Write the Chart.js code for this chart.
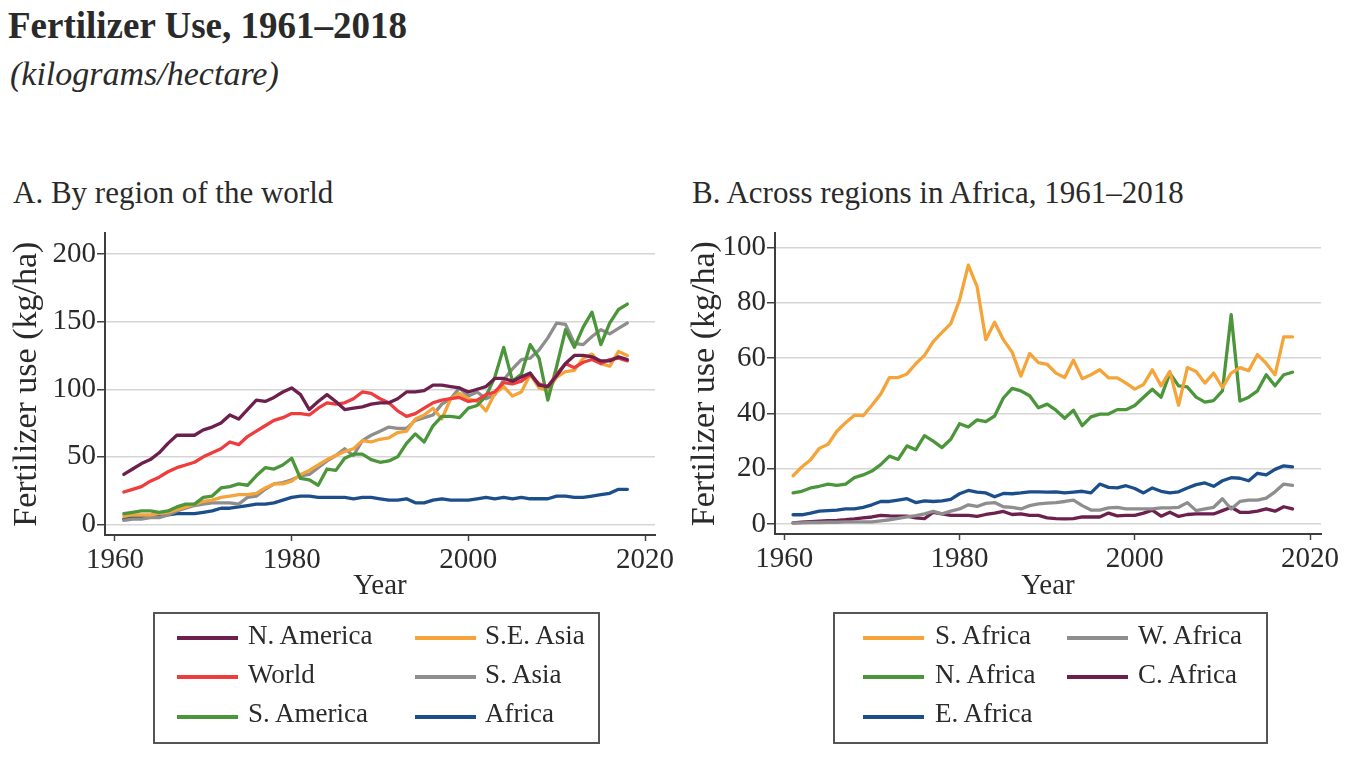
<!DOCTYPE html>
<html><head><meta charset="utf-8">
<script src="https://cdn.jsdelivr.net/npm/chart.js@4.4.0/dist/chart.umd.min.js"></script>
<style>
body{margin:0;background:#fff;width:1359px;height:780px;overflow:hidden;position:relative;font-family:"Liberation Serif",serif;color:#2a2a2a}
.t{position:absolute;white-space:nowrap;line-height:1}
#title{left:8px;top:7px;font-size:37px;font-weight:bold}
#sub{left:10px;top:57px;font-size:34px;font-style:italic}
.pt{font-size:31px;top:177px}
canvas{position:absolute;top:215px}
.legend{position:absolute;top:612px;height:132px;border:2px solid #555;box-sizing:border-box}
.sw{position:absolute;height:4px;width:61px}
.lt{position:absolute;font-size:27px;line-height:1;white-space:nowrap}
</style></head>
<body>
<div id="title" class="t">Fertilizer Use, 1961–2018</div>
<div id="sub" class="t">(kilograms/hectare)</div>
<div class="t pt" style="left:13px">A. By region of the world</div>
<div class="t pt" style="left:692px">B. Across regions in Africa, 1961–2018</div>
<canvas id="cA" width="680" height="400" style="left:0px"></canvas>
<canvas id="cB" width="679" height="400" style="left:680px"></canvas>
<div id="legA" class="legend" style="left:153px;width:447px"></div>
<div id="legB" class="legend" style="left:833px;width:435px"></div>
<script>
const FONT = '"Liberation Serif", serif';
const years = [1961,1962,1963,1964,1965,1966,1967,1968,1969,1970,
1971,1972,1973,1974,1975,1976,1977,1978,1979,1980,
1981,1982,1983,1984,1985,1986,1987,1988,1989,1990,
1991,1992,1993,1994,1995,1996,1997,1998,1999,2000,
2001,2002,2003,2004,2005,2006,2007,2008,2009,2010,
2011,2012,2013,2014,2015,2016,2017,2018];
const xTicks = [1960,1980,2000,2020];
const yTicksA = [0,50,100,150,200];
const yTicksB = [0,20,40,60,80,100];

// Panel A: by region of the world (kg/ha)
const nAmerica = [37,41,45,48,53,60,66,66,66,70, 72,75,81,78,85,92,91,94,98,101, 96,85,91,96,91,85,86,87,89,90, 90,93,98,98,99,103,103,102,101,98, 100,102,108,108,106,109,112,103,102,110, 119,125,125,124,121,121,124,122];
const world = [24,26,28,32,35,39,42,44,46,50, 53,56,61,59,65,69,73,77,79,82, 82,81,86,90,89,90,93,98,97,93, 90,84,80,82,86,90,92,93,94,91, 92,96,98,105,104,106,111,104,102,111, 119,116,120,122,119,122,123,121];
const sAmerica = [8,9,10,10,9,10,13,15,15,20, 21,27,28,30,29,36,42,41,44,49, 34,33,29,41,40,49,52,52,48,46, 47,50,60,67,61,73,80,80,79,86, 88,95,109,131,106,111,133,123,92,117, 144,131,146,157,133,149,159,163];
const seAsia = [6,7,7,7,8,9,11,13,15,17, 18,20,21,22,22,23,27,30,30,32, 37,40,44,48,51,54,56,62,61,63, 64,68,69,78,81,86,78,93,97,93, 91,84,97,102,95,98,111,101,99,109, 113,114,123,126,119,117,128,125];
const sAsia = [3,4,4,5,5,7,10,12,14,15, 16,16,16,15,20,21,26,30,31,33, 36,37,42,47,51,56,51,62,66,69, 72,71,71,77,79,81,89,93,101,95, 98,93,96,107,115,122,123,129,138,149, 148,134,133,139,144,141,145,149];
const africa = [4,5,5,6,6,7,8,8,8,9, 10,12,12,13,14,15,15,16,18,20, 21,21,20,20,20,20,19,20,20,19, 18,18,19,16,16,18,19,18,18,18, 19,20,19,20,19,20,19,19,19,21, 21,20,20,21,22,23,26,26];

// Panel B: across regions in Africa (kg/ha)
const sAfrica = [17.5,20.7,23.3,27.4,28.9,33.6,36.7,39.4,39.2,43, 47,53,53,54.3,58,61,66,69.3,72.5,81, 93.6,85.9,66.7,73,66.7,62.2,53.5,61.7,58.4,57.8, 54.6,53,59.3,52.6,54,55.8,52.9,52.9,51,48.8, 50.5,55.8,50,55.2,43,56.6,55.2,51,54.6,49.4, 54.6,56.6,55.5,61.3,58.1,54,67.7,67.7];
const nAfrica = [11.3,11.9,13.1,13.7,14.5,14,14.5,16.8,17.8,19.2, 21.5,24.6,23.4,28.3,26.9,32,30,27.7,30.7,36.3, 35.1,37.7,37.1,39.1,45.6,49.1,48.2,46.4,42.1,43.4, 41.2,38.3,41.2,35.6,38.8,39.8,39.8,41.4,41.4,42.9, 45.9,48.8,45.9,54.6,50,49.6,45.9,44.1,44.7,48.2, 75.7,44.5,45.9,48.2,54,50,54,54.9];
const eAfrica = [3.4,3.4,4,4.7,4.9,5.1,5.5,5.5,6.1,7, 8.2,8.2,8.7,9.2,7.8,8.4,8.2,8.4,9,11, 12.2,11.6,11.3,9.9,11.1,11,11.3,11.7,11.7,11.6, 11.7,11.3,11.6,11.9,11.3,14.5,13.3,13.1,13.9,12.9, 11.3,13.1,11.9,11.3,11.7,13.1,14.3,14.9,13.7,15.7, 16.8,16.6,15.7,18.4,17.8,19.8,21.1,20.7];
const wAfrica = [0.5,0.5,0.6,0.6,0.7,0.7,0.8,0.8,0.8,0.8, 1.2,1.6,2.1,2.6,3.1,3.7,4.6,3.7,4.7,5.5, 7,6.4,7.5,7.8,6.3,6.1,5.5,6.7,7.3,7.6, 7.8,8.2,8.7,6.7,5.1,5.1,5.9,6.1,5.5,5.5, 5.5,5.5,5.9,5.9,6.1,7.8,4.9,5.5,6.1,9.2, 5.5,8.2,8.7,8.7,9.4,11.7,14.5,14];
const cAfrica = [0.5,0.7,0.9,1.1,1.3,1.4,1.6,1.9,2.3,2.6, 3.2,3,2.9,2.9,2.3,2,4.3,3.7,3.2,3.2, 3.2,2.8,3.5,4,4.6,3.5,3.7,3.2,3.2,2.3, 2,1.9,2,2.6,2.6,2.6,4,3,3.2,3.2, 4,5.1,2.9,4.3,2.8,3.5,3.7,3.7,3.7,4.9, 6.1,4.3,4.3,4.7,5.5,4.7,6.3,5.5];

const C = {purple:'#6d1f4e', red:'#ef3c3c', green:'#4b963b', orange:'#f5a43a', gray:'#8e8e8e', blue:'#1d4e8c'};

const seriesA = [
  {label:'N. America', values:nAmerica, color:C.purple},
  {label:'World', values:world, color:C.red},
  {label:'S. America', values:sAmerica, color:C.green},
  {label:'S.E. Asia', values:seAsia, color:C.orange},
  {label:'S. Asia', values:sAsia, color:C.gray},
  {label:'Africa', values:africa, color:C.blue}
];
const seriesB = [
  {label:'S. Africa', values:sAfrica, color:C.orange},
  {label:'N. Africa', values:nAfrica, color:C.green},
  {label:'E. Africa', values:eAfrica, color:C.blue},
  {label:'W. Africa', values:wAfrica, color:C.gray},
  {label:'C. Africa', values:cAfrica, color:C.purple}
];

function build(id, series, yTicks, cfg) {
  return new Chart(document.getElementById(id), {
    type:'line',
    data:{datasets: series.map(s=>({label:s.label, data: years.map((y,i)=>({x:y,y:s.values[i]})),
      borderColor:s.color, backgroundColor:s.color, borderWidth:3.3, pointRadius:0, tension:0, fill:false,
      borderJoinStyle:'round', borderCapStyle:'round'}))},
    options:{
      responsive:false, animation:false, devicePixelRatio:1,
      layout:{padding:{top:cfg.top,right:cfg.right,left:0,bottom:0}},
      plugins:{legend:{display:false},tooltip:{enabled:false}},
      scales:{
        x:{type:'linear', min:cfg.xmin, max:cfg.xmax,
          afterBuildTicks: s=>{s.ticks = xTicks.map(v=>({value:v}));},
          afterFit: s=>{s.height = cfg.xh;},
          grid:{drawOnChartArea:false, drawTicks:true, tickLength:6, tickColor:'#444', tickWidth:1.5},
          border:{display:true,color:'#3d3d3d',width:2},
          ticks:{font:{family:FONT,size:29}, color:'#2a2a2a', padding:2, maxRotation:0, autoSkip:false, callback:v=>String(v)},
          title:{display:true,text:'Year',font:{family:FONT,size:29},color:'#2a2a2a',padding:{top:0,bottom:cfg.xtpad}}
        },
        y:{min:cfg.ymin, max:cfg.ymax,
          afterBuildTicks: s=>{s.ticks = yTicks.map(v=>({value:v}));},
          afterFit: s=>{s.width = cfg.yw;},
          grid:{color:'#d5d5d5', lineWidth:1.5, drawTicks:true, tickLength:8, tickColor:'#444', tickWidth:1.5},
          border:{display:true,color:'#3d3d3d',width:2},
          ticks:{font:{family:FONT,size:29}, color:'#2a2a2a', padding:1, callback:v=>String(v)},
          title:{display:true,text:'Fertilizer use (kg/ha)',font:{family:FONT,size:34},color:'#2a2a2a',padding:{top:cfg.ytpad,bottom:0}}
        }
      }
    }
  });
}

build('cA', seriesA, yTicksA, {top:13, right:25, yw:105, xh:80, xmin:1958.87, xmax:2021.13, ymin:-7.8, ymax:215.3, ytpad:7, xtpad:11});
build('cB', seriesB, yTicksB, {top:13, right:38, yw:95, xh:81, xmin:1958.94, xmax:2021.25, ymin:-3.55, ymax:105.1, ytpad:5, xtpad:11});

// HTML legends, column-major (3 rows)
function legend(elId, series, boxLeft, colLines, colTexts) {
  const el = document.getElementById(elId);
  const lineY = [638, 677, 717];
  const baseY = [645, 684, 723];
  series.forEach((s, i) => {
    const col = Math.floor(i / 3), row = i % 3;
    const sw = document.createElement('div');
    sw.className = 'sw';
    sw.style.background = s.color;
    sw.style.left = (colLines[col] - boxLeft - 2) + 'px';
    sw.style.top = (lineY[row] - 612 - 2 - 2) + 'px';
    el.appendChild(sw);
    const tx = document.createElement('div');
    tx.className = 'lt';
    tx.textContent = s.label;
    tx.style.left = (colTexts[col] - boxLeft - 2) + 'px';
    tx.style.top = (baseY[row] - 612 - 2 - 22.6) + 'px';
    el.appendChild(tx);
  });
}
legend('legA', seriesA, 153, [177, 415], [248, 485]);
legend('legB', seriesB, 833, [863, 1067], [935, 1138]);
</script>
</body></html>
